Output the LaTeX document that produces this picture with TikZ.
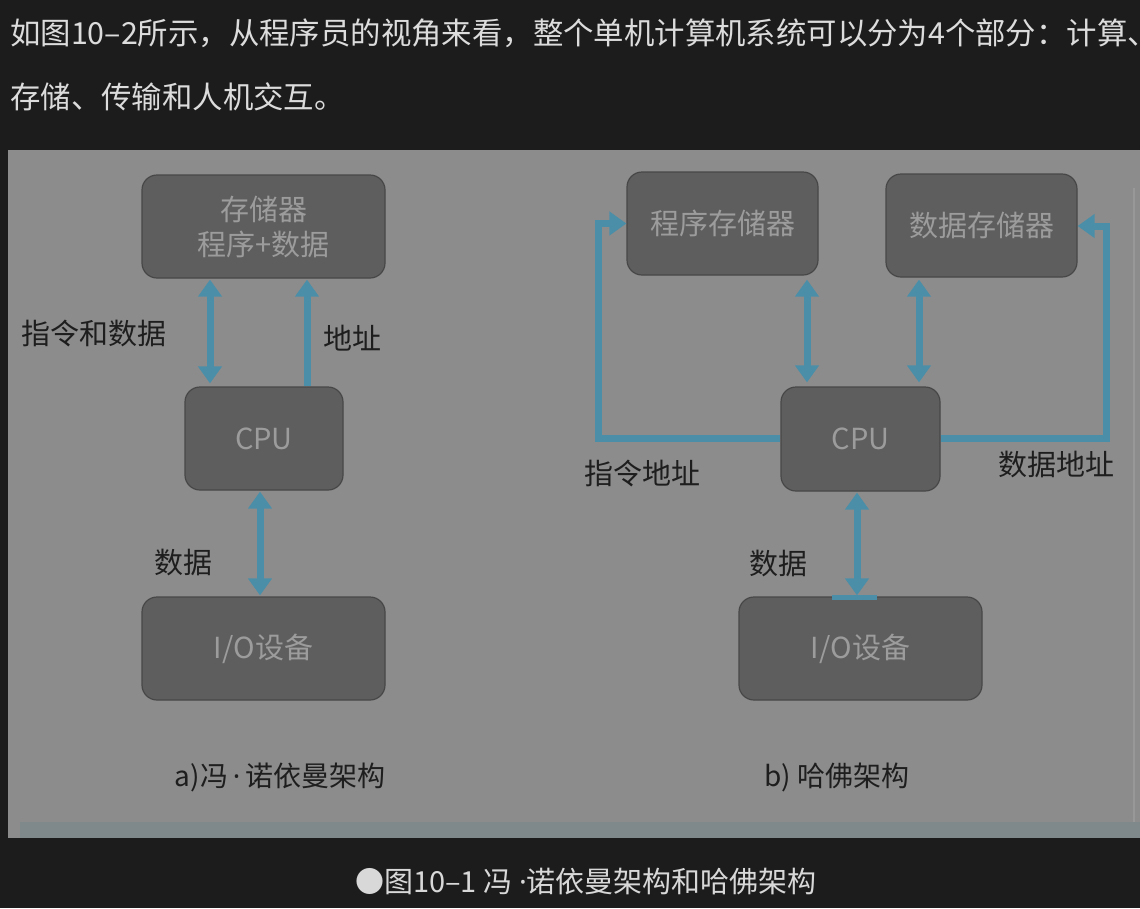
\documentclass[tikz,border=0pt]{standalone}
\usepackage{fontspec}
\setmainfont{Noto Sans CJK SC}
\newfontfamily\latinfont{Noto Sans}
\usetikzlibrary{arrows.meta}
\definecolor{bgdark}{HTML}{1C1C1C}
\definecolor{toptext}{HTML}{DCDCDC}
\definecolor{panel}{HTML}{8C8C8C}
\definecolor{strip}{HTML}{7F888B}
\definecolor{edgeline}{HTML}{989898}
\definecolor{boxfill}{HTML}{5E5E5E}
\definecolor{boxline}{HTML}{474747}
\definecolor{boxtext}{HTML}{9C9C9C}
\definecolor{lbltext}{HTML}{1E1E1E}
\definecolor{busblue}{HTML}{4A8EA8}
\definecolor{captext}{HTML}{D8D8D8}
\begin{document}
\begin{tikzpicture}[x=1pt,y=-1pt,
  box/.style={draw=boxline, line width=1.2pt, fill=boxfill, rounded corners=15pt,
    text=boxtext, font=\fontsize{29pt}{35pt}\selectfont, align=center, inner sep=0pt,
    minimum height=103pt},
  lbl/.style={text=lbltext, font=\fontsize{29pt}{34pt}\selectfont, inner sep=0pt},
  bus/.style={draw=busblue, line width=7pt, line join=miter},
  biarrow/.style={bus, {Triangle[width=23pt,length=17pt]}-{Triangle[width=23pt,length=17pt]}},
  onearrow/.style={bus, -{Triangle[width=23pt,length=17pt]}},
]
\clip (0,0) rectangle (1140,908);
\fill[bgdark] (0,0) rectangle (1140,908);
% panel
\fill[panel] (8,150) rectangle (1140,838);
\fill[strip] (20,822) rectangle (1140,838);
\draw[edgeline, line width=1.5pt] (1134,188) -- (1134,822);

% top text
\node[anchor=west, text=toptext, font=\fontsize{30.4pt}{36pt}\selectfont, inner sep=0pt] (line1) at (10,33)
  {如图10–2所示，从程序员的视角来看，整个单机计算机系统可以分为4个部分：计算、};
\node[anchor=west, text=toptext, font=\fontsize{30.4pt}{36pt}\selectfont, inner sep=0pt] (line2) at (10,97)
  {存储、传输和人机交互。};

% ---- a) von Neumann
\node[box, minimum width=243pt] (memA) at (263.5,226.5) {存储器\\程序+数据};
\node[box, minimum width=158pt] (cpuA) at (264,438.5) {CPU};
\node[box, minimum width=243pt] (ioA) at (263.5,648.5) {I/O设备};

\draw[biarrow] ([xshift=-53.5pt,yshift=-1pt]memA.south) -- ([xshift=-54pt,yshift=3pt]cpuA.north);
\draw[onearrow] ([xshift=43pt]cpuA.north) -- ([xshift=43.5pt,yshift=-1pt]memA.south);
\draw[biarrow] ([xshift=-4pt,yshift=-1pt]cpuA.south) -- ([xshift=-3.5pt,yshift=1pt]ioA.north);

\node[lbl] (labA1) at (93.5,333) {指令和数据};
\node[lbl] (labA2) at (352,338) {地址};
\node[lbl] (labA3) at (183,562) {数据};
\node[lbl, font=\fontsize{28pt}{34pt}\selectfont] (capA) at (280,777) {a)冯\,{\latinfont ·}\,诺依曼架构};

% ---- b) Harvard
\node[box, minimum width=191pt] (progB) at (722.5,223.5) {程序存储器};
\node[box, minimum width=191pt] (dataB) at (981.5,225.5) {数据存储器};
\node[box, minimum width=159pt, minimum height=104pt] (cpuB) at (860.5,439) {CPU};
\node[box, minimum width=243pt] (ioB) at (860.5,648.5) {I/O设备};

\draw[biarrow] ([xshift=84.5pt,yshift=-4pt]progB.south) -- ([xshift=-53.5pt,yshift=4pt]cpuB.north);
\draw[biarrow] ([xshift=-62.5pt,yshift=-2pt]dataB.south) -- ([xshift=58.5pt,yshift=4pt]cpuB.north);
\draw[onearrow] ([yshift=1pt]cpuB.west) -- ++(-182,0) |- (progB.west);
\draw[onearrow] ([yshift=1pt]cpuB.east) -- ++(166,0) |- ([yshift=-0.5pt]dataB.east);
\draw[biarrow] ([xshift=-3.5pt,yshift=-1pt]cpuB.south) -- ([xshift=-3.5pt,yshift=1pt]ioB.north);
\fill[busblue] ([xshift=-28.5pt,yshift=1.5pt]ioB.north) rectangle ([xshift=16.5pt,yshift=-4pt]ioB.north);

\node[lbl] (labB1) at (642,473) {指令地址};
\node[lbl] (labB2) at (1056,465) {数据地址};
\node[lbl] (labB3) at (778,563) {数据};
\node[lbl, font=\fontsize{28pt}{34pt}\selectfont] (capB) at (837,777) {b) 哈佛架构};

% caption
\node[text=captext, font=\fontsize{29pt}{34pt}\selectfont, inner sep=0pt] (cap) at (586,882)
  {●图10–1 冯 {\latinfont ·}诺依曼架构和哈佛架构};
\end{tikzpicture}
\end{document}
